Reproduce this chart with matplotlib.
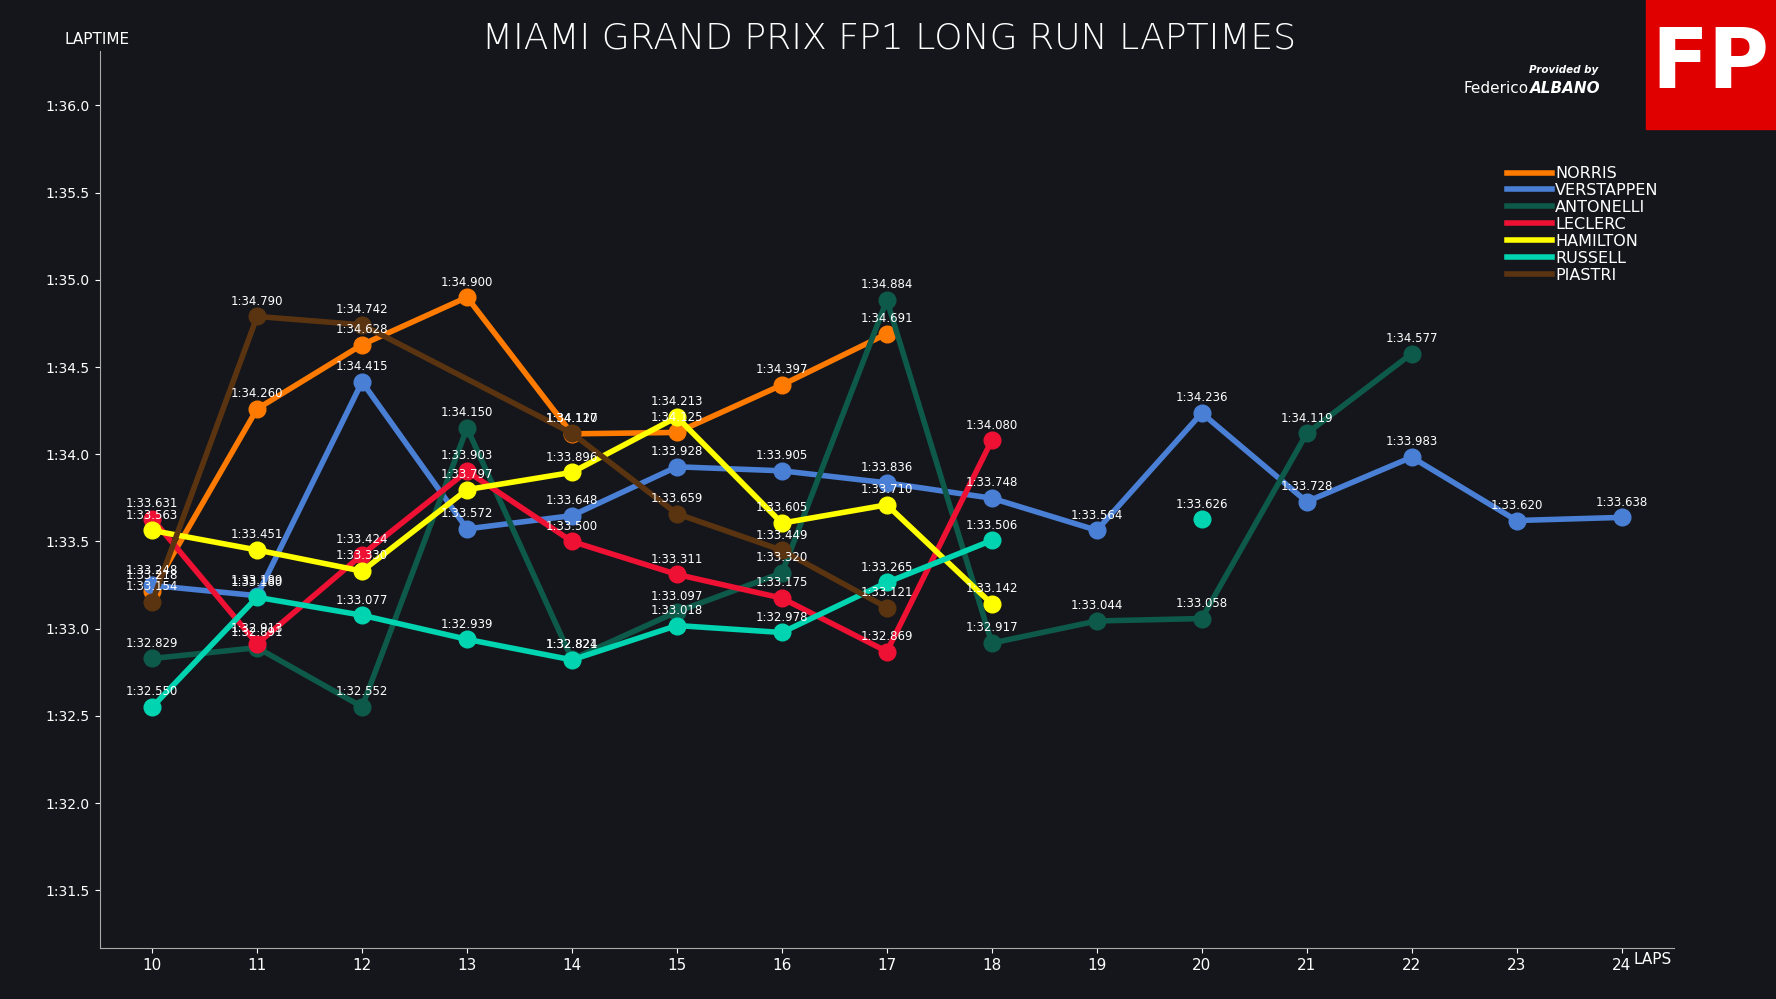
import matplotlib
matplotlib.use("Agg")
import matplotlib.pyplot as plt
import numpy as np

laps = list(range(10, 25))
drivers = ["NORRIS", "VERSTAPPEN", "ANTONELLI", "LECLERC", "HAMILTON", "RUSSELL", "PIASTRI"]
colors = ["#ff7a00", "#4a7fd6", "#0e5a4a", "#ee1133", "#ffff00", "#00d4b0", "#5a3410"]
norris_laps = [10, 11, 12, 13, 14, 15, 16, 17]
norris = [93.218, 94.260, 94.628, 94.900, 94.117, 94.125, 94.397, 94.691]
ver_laps = list(range(10, 25))
ver = [93.248, 93.189, 94.415, 93.572, 93.648, 93.928, 93.905, 93.836, 93.748, 93.564, 94.236, 93.728, 93.983, 93.620, 93.638]
ant_laps = list(range(10, 23))
ant = [92.829, 92.891, 92.552, 94.150, 92.824, 93.097, 93.320, 94.884, 92.917, 93.044, 93.058, 94.119, 94.577]
lec_laps = list(range(10, 19))
lec = [93.631, 92.913, 93.424, 93.903, 93.500, 93.311, 93.175, 92.869, 94.080]
ham_laps = list(range(10, 19))
ham = [93.563, 93.451, 93.330, 93.797, 93.896, 94.213, 93.605, 93.710, 93.142]
rus_laps = list(range(10, 21))
rus = [92.550, 93.180, 93.077, 92.939, 92.821, 93.018, 92.978, 93.265, 93.506, np.nan, 93.626]
pia_laps = [10, 11, 12, 14, 15, 16, 17]
pia = [93.154, 94.790, 94.742, 94.120, 93.659, 93.449, 93.121]
series = [(norris_laps, norris), (ver_laps, ver), (ant_laps, ant), (lec_laps, lec),
          (ham_laps, ham), (rus_laps, rus), (pia_laps, pia)]
yticks = [91.5, 92.0, 92.5, 93.0, 93.5, 94.0, 94.5, 95.0, 95.5, 96.0]

def fmt(v):
    m = int(v // 60)
    return f"{m}:{v - 60*m:06.3f}"

W, H = 1568, 882
bg = "#15161b"
fig = plt.figure(figsize=(17.76, 9.99), dpi=100, facecolor=bg)
ax = fig.add_axes([88/W, 1-837/H, 1390/W, 792/H], facecolor=bg)
for name, c, (xs, ys) in zip(drivers, colors, series):
    ax.plot(xs, ys, color=c, lw=4, marker="o", ms=12, label=name, zorder=3)
    for x, y in zip(xs, ys):
        if not np.isnan(y):
            ax.text(x, y + 0.05, fmt(y), color="white", fontsize=8.5, ha="center", va="bottom", zorder=5)
ax.set_xlim(9.5, 24.5)
ax.set_ylim(91.169, 96.312)
ax.set_xticks(laps)
ax.set_xticklabels([str(l) for l in laps])
ax.set_yticks(yticks)
ax.set_yticklabels([fmt(v)[:-2] for v in yticks])
for s in ["top", "right"]:
    ax.spines[s].set_visible(False)
for s in ["left", "bottom"]:
    ax.spines[s].set_color("#aaaaaa")
ax.tick_params(colors="white", labelsize=10)
ax.tick_params(axis="x", labelsize=11)
fig.text(57/W, 1-35/H, "LAPTIME", color="white", fontsize=11, va="center")
fig.text(1442/W, 1-847/H, "LAPS", color="white", fontsize=11, va="center")
fig.text(785/W, 1-34/H, "MIAMI GRAND PRIX FP1 LONG RUN LAPTIMES", color="white",
         fontsize=26, ha="center", va="center", fontweight="light")
fig.patches.append(plt.Rectangle((1453/W, 1-114/H), 115/W, 114/H,
                                 transform=fig.transFigure, color="#e00000"))
fig.text(1510/W, 1-57/H, "FP", color="white", fontsize=60, fontweight="bold",
         ha="center", va="center", family=["Liberation Sans Narrow", "DejaVu Sans"])
fig.text(1411/W, 1-62/H, "Provided by", color="white", fontsize=7.5, style="italic", fontweight="bold", ha="right", va="center")
fig.text(1350/W, 1-78/H, "Federico", color="white", fontsize=11, va="center", ha="right")
fig.text(1413/W, 1-78/H, "ALBANO", color="white", fontsize=11, fontweight="bold", style="italic", ha="right", va="center")
leg = ax.legend(loc="upper left", bbox_to_anchor=(1325/W, 1-141/H), bbox_transform=fig.transFigure,
                frameon=False, labelcolor="white", fontsize=11.5, handlelength=2.8, handletextpad=0.2,
                labelspacing=0.12, borderaxespad=0)
for h in leg.legend_handles:
    h.set_marker("")
fig.savefig("out.png", dpi=100, facecolor=bg)
